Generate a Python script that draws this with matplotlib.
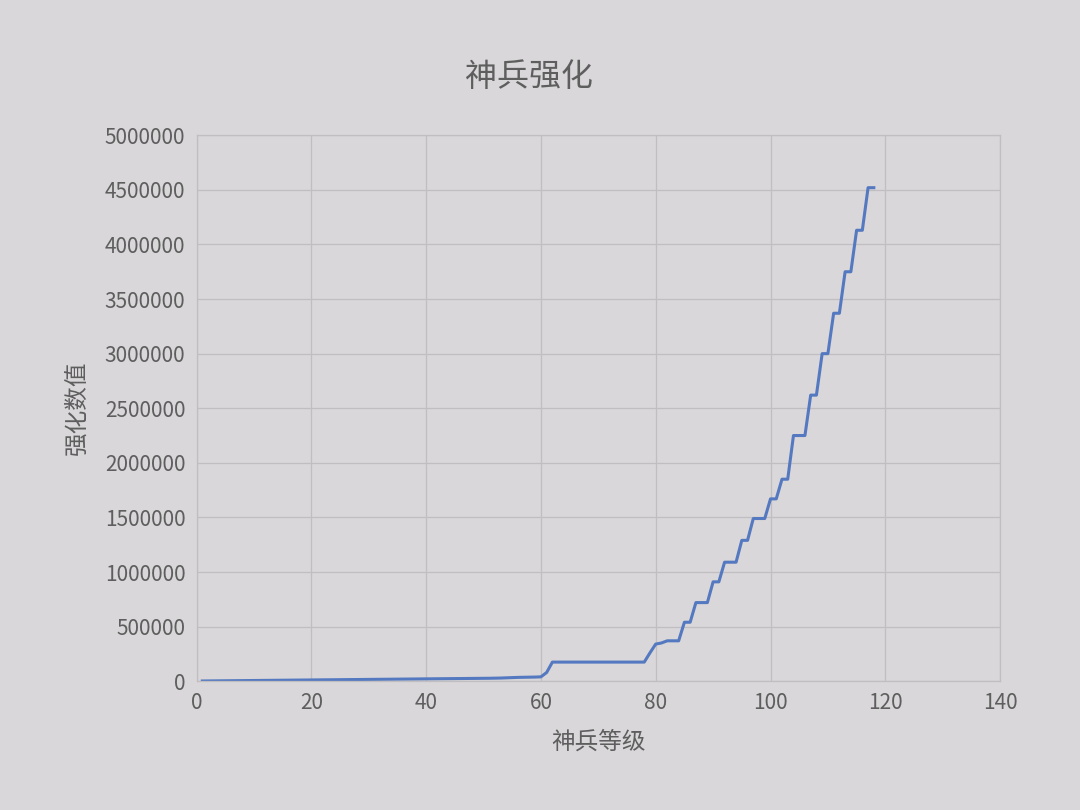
import matplotlib
matplotlib.use('Agg')
import matplotlib.pyplot as plt
from matplotlib.ticker import MultipleLocator, FuncFormatter

plt.rcParams['font.family'] = ['Noto Sans CJK SC', 'DejaVu Sans']

# levels 1..118 and the strengthening value at each level
levels = list(range(1, 119))
values = [
    # 1-10
    2000, 2500, 3000, 3500, 4000, 4500, 5000, 5500, 6000, 6500,
    # 11-20
    7000, 7500, 8000, 8500, 9000, 9500, 10000, 10500, 11000, 11500,
    # 21-30
    12000, 12500, 13000, 13500, 14000, 14500, 15000, 15500, 16000, 16500,
    # 31-40
    17000, 17500, 18000, 18500, 19000, 19500, 20000, 20500, 21000, 21500,
    # 41-50
    22000, 22500, 23000, 23500, 24000, 24500, 25000, 25500, 26000, 26500,
    # 51-60
    27000, 28000, 29000, 31000, 33000, 35000, 36000, 37000, 38000, 40000,
    # 61-70
    80000, 175000, 175000, 175000, 175000, 175000, 175000, 175000, 175000, 175000,
    # 71-80
    175000, 175000, 175000, 175000, 175000, 175000, 175000, 175000, 260000, 340000,
    # 81-90
    350000, 370000, 370000, 370000, 540000, 540000, 720000, 720000, 720000, 910000,
    # 91-100
    910000, 1090000, 1090000, 1090000, 1290000, 1290000, 1490000, 1490000, 1490000, 1670000,
    # 101-110
    1670000, 1850000, 1850000, 2250000, 2250000, 2250000, 2620000, 2620000, 3000000, 3000000,
    # 111-118
    3370000, 3370000, 3750000, 3750000, 4130000, 4130000, 4520000, 4520000,
]

title = '神兵强化'
xlabel = '神兵等级'
ylabel = '强化数值'

bg = '#d9d7d9'
txt = '#5e5e5e'

fig = plt.figure(figsize=(10.8, 8.1), dpi=100, facecolor=bg)
ax = fig.add_axes([0.182, 0.159, 0.744, 0.674], facecolor=bg)

ax.plot(levels, values, color='#5479c0', lw=2.2, solid_joinstyle='round')

ax.set_xlim(0, 140)
ax.set_ylim(0, 5000000)
ax.xaxis.set_major_locator(MultipleLocator(20))
ax.yaxis.set_major_locator(MultipleLocator(500000))
ax.yaxis.set_major_formatter(FuncFormatter(lambda v, p: f'{int(v)}'))

ax.grid(True, color='#c0bec0', lw=0.9)
ax.set_axisbelow(True)
for s in ax.spines.values():
    s.set_color('#c0bec0')
    s.set_linewidth(0.9)

ax.tick_params(length=0, labelsize=15, colors=txt, pad=8)

fig.text(0.49, 0.905, title, ha='center', va='center', fontsize=23, color=txt)
ax.set_xlabel(xlabel, fontsize=17, color=txt, labelpad=12)
ax.set_ylabel(ylabel, fontsize=17, color=txt, labelpad=12)

fig.savefig('out.png', dpi=100, facecolor=bg)
